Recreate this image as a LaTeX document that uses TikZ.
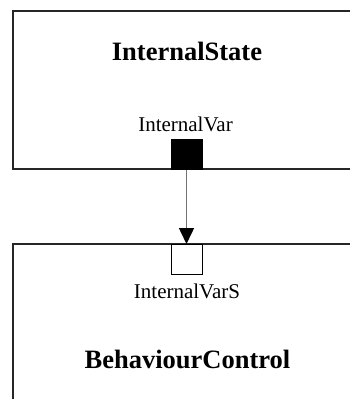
\documentclass[tikz,border=0pt]{standalone}
\usepackage{fontspec}
\setmainfont{Liberation Serif}
\usetikzlibrary{arrows.meta}
\begin{document}
\begin{tikzpicture}[x=1pt,y=-1pt,
  block/.style={draw=black!85,line width=1.2pt,rectangle,inner sep=0pt},
  port/.style={draw=black,line width=1pt,rectangle,inner sep=0pt,minimum width=31pt,minimum height=30pt},
  title/.style={font=\bfseries\fontsize{26.5}{31}\selectfont,anchor=base,inner sep=0pt},
  portlabel/.style={font=\fontsize{21}{25}\selectfont,anchor=base,inner sep=0pt},
  flow/.style={draw=black!55,line width=1.5pt,-{Triangle[width=15pt,length=16pt,color=black]}}]
\useasboundingbox (0,0) rectangle (350,399);
\clip (0,0) rectangle (350,399);
% components (they run past the right and bottom edges)
\node[block,minimum width=347pt,minimum height=158pt] (state) at (186.5,90) {};
\node[block,minimum width=347pt,minimum height=176pt] (control) at (186.5,332) {};
% titles
\node[title] (stateT) at (187,60) {InternalState};
\node[title] (controlT) at (187.5,368) {BehaviourControl};
% ports
\node[port,fill=black] (out) at (186.5,154) {};
\node[port,fill=white] (in) at (186.5,259.5) {};
\node[portlabel] (outL) at (185.5,131) {InternalVar};
\node[portlabel] (inL) at (187,298) {InternalVarS};
% connection
\draw[flow] (out.south) -- (in.north);
\end{tikzpicture}
\end{document}
